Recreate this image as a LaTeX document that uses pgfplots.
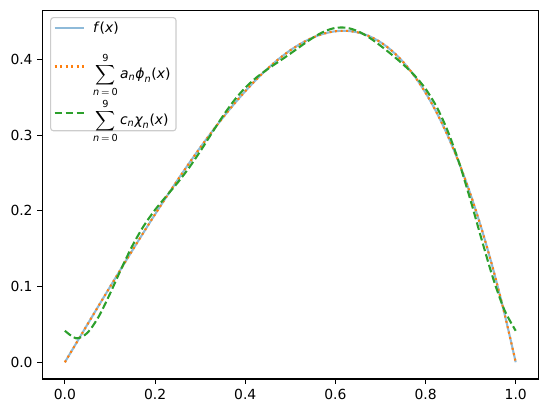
\documentclass[border=0pt]{standalone}
\usepackage{amsmath}
\usepackage{fontspec}
\setmainfont{DejaVu Sans}
\usepackage{pgfplots}
\usepackage{pgfplotstable}
\pgfplotsset{compat=1.18}
\newcommand{\mi}[1]{\text{\itshape #1}}
\newcommand{\mt}[1]{\text{#1}}
\definecolor{tabblue}{RGB}{31,119,180}
\definecolor{taborange}{RGB}{255,127,14}
\definecolor{tabgreen}{RGB}{44,160,44}
\definecolor{legedge}{RGB}{204,204,204}
\pgfplotstableread{
x f
0 0
0.025 0.024992
0.05 0.049935
0.075 0.074778
0.1 0.099465
0.125 0.123938
0.15 0.148134
0.175 0.171986
0.2 0.195424
0.225 0.218374
0.25 0.240755
0.275 0.262483
0.3 0.283470
0.325 0.303622
0.35 0.322838
0.375 0.341014
0.4 0.358038
0.425 0.373794
0.45 0.388157
0.475 0.401000
0.5 0.412180
0.525 0.421558
0.55 0.428980
0.575 0.434286
0.6 0.437309
0.625 0.437870
0.65 0.435786
0.675 0.430860
0.7 0.422888
0.725 0.411656
0.75 0.396938
0.775 0.378497
0.8 0.356087
0.825 0.329447
0.85 0.298305
0.875 0.262377
0.9 0.221364
0.925 0.174955
0.95 0.122821
0.975 0.064622
1 0
}\ftable
\pgfplotstableread{
x g
0 0.041594
0.025 0.031578
0.05 0.038892
0.075 0.060328
0.1 0.090494
0.125 0.123421
0.15 0.154211
0.175 0.180215
0.2 0.201339
0.225 0.219454
0.25 0.237182
0.275 0.256618
0.3 0.278461
0.325 0.301833
0.35 0.324855
0.375 0.345535
0.4 0.362670
0.425 0.376254
0.45 0.387346
0.475 0.397446
0.5 0.407714
0.525 0.418394
0.55 0.428666
0.575 0.436986
0.6 0.441738
0.625 0.441877
0.65 0.437341
0.675 0.429023
0.7 0.418315
0.725 0.406426
0.75 0.393718
0.775 0.379326
0.8 0.361249
0.825 0.336961
0.85 0.304333
0.875 0.262703
0.9 0.213606
0.925 0.160984
0.95 0.110636
0.975 0.068998
1 0.041594
}\gtable
\begin{document}
\begin{tikzpicture}
\begin{axis}[
  scale only axis, width=357.1pt, height=265.2pt,
  xmin=-0.05, xmax=1.05, ymin=-0.0221, ymax=0.4645,
  xtick={0,0.2,0.4,0.6,0.8,1}, ytick={0,0.1,0.2,0.3,0.4},
  /pgf/number format/.cd, fixed, fixed zerofill, precision=1, assume math mode=true,
  /pgfplots/.cd,
  tick align=outside, major tick length=3.5pt, tick pos=left,
  tick style={line width=0.8pt, black},
  axis line style={line width=0.8pt},
  ticklabel style={font=\fontsize{10}{12}\selectfont},
  legend image code/.code={\draw[#1] (0pt,0pt) -- (21pt,0pt);},
  legend cell align=left,
  legend style={at={(0,1)}, anchor=north west, xshift=5.6pt, yshift=-4.6pt,
    draw=legedge, line width=0.8pt, rounded corners=2pt, fill=white, fill opacity=0.8,
    text opacity=1, draw opacity=1, font=\fontsize{10}{12}\selectfont,
    inner xsep=2pt, inner ysep=1pt, row sep=9pt, column sep=4pt,
    nodes={inner xsep=2pt, inner ysep=2pt}},
]
\addplot[tabblue, opacity=0.5, line width=1.5pt, smooth] table[x=x,y=f]{\ftable};
\addlegendentry{\textit{f}(\textit{x})}
\addplot[taborange, line width=1.5pt, smooth, dash pattern=on 1.5pt off 2.475pt] table[x=x,y=f]{\ftable};
\addlegendentry{$\displaystyle\sum_{\mi{n}\,=\,\mt{0}}^{\mt{9}} \mi{a}_{\mi{n}}\mi{ϕ}_{\mi{n}}\mt{(}\mi{x}\mt{)}$}
\addplot[tabgreen, line width=1.5pt, smooth, dash pattern=on 5.55pt off 2.4pt] table[x=x,y=g]{\gtable};
\addlegendentry{$\displaystyle\sum_{\mi{n}\,=\,\mt{0}}^{\mt{9}} \mi{c}_{\mi{n}}\mi{χ}_{\mi{n}}\mt{(}\mi{x}\mt{)}$}
\end{axis}
\path ([xshift=-30.5pt,yshift=-24.5pt]current axis.south west) rectangle ([xshift=6.3pt,yshift=7.7pt]current axis.north east);
\end{tikzpicture}
\end{document}
